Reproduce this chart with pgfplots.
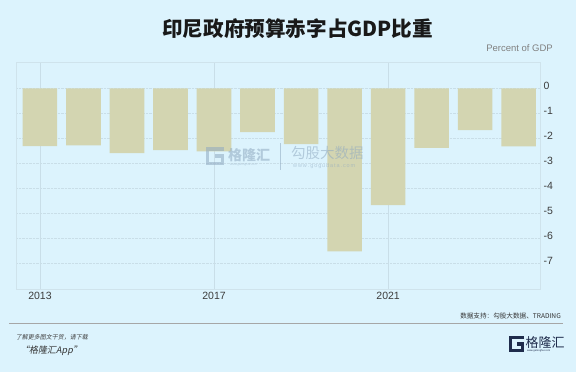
\documentclass[border=0pt]{standalone}
\usepackage{pgfplots}
\pgfplotsset{compat=1.18}
\usepackage{fontspec}
\setmainfont{Liberation Sans}
\newfontfamily\cjk{Noto Sans CJK SC}
\newfontfamily\cjkit[FakeSlant=0.2]{Noto Sans CJK SC}
\definecolor{bgcol}{HTML}{DCF3FD}
\definecolor{barcol}{HTML}{D3D5B1}
\definecolor{gridcol}{HTML}{C9DEE8}
\definecolor{framecol}{HTML}{CFE3EC}
\definecolor{tickcol}{HTML}{3C3C3C}
\definecolor{navy}{HTML}{1F2C4C}
\definecolor{wm}{HTML}{8FA9C0}
\begin{document}
\begin{tikzpicture}
\fill[bgcol] (0bp,0bp) rectangle (576bp,372bp);
\begin{axis}[
  at={(16bp,83bp)}, anchor=south west,
  scale only axis, width=524bp, height=227bp,
  xmin=2012.45, xmax=2024.49, ymin=-8.03, ymax=1.05,
  ybar, bar width=0.795,
  xtick={2013,2017,2021},
  ytick={-7,-6,-5,-4,-3,-2,-1,0},
  yticklabel pos=right,
  major tick length=0pt,
  /pgf/number format/assume math mode=true,
  /pgf/number format/1000 sep={},
  tick label style={font=\fontsize{10.5bp}{12bp}\selectfont, text=tickcol},
  yticklabel style={yshift=2bp},
  axis line style={framecol},
  xmajorgrids, ymajorgrids,
  x grid style={gridcol, line width=0.5pt},
  y grid style={gridcol, densely dotted, line width=0.5pt},
  axis background/.style={fill=bgcol},
]
\addplot[fill=barcol, draw=none] coordinates {
(2013,-2.31) (2014,-2.28) (2015,-2.59) (2016,-2.47) (2017,-2.52) (2018,-1.75)
(2019,-2.23) (2020,-6.53) (2021,-4.67) (2022,-2.38) (2023,-1.67) (2024,-2.32)};
\end{axis}
% title
\node[font=\cjk\bfseries\fontsize{20.6bp}{24bp}\selectfont, text=black!90] at (297.7bp,343.3bp) {印尼政府预算赤字占GDP比重};
\node[anchor=east, font=\fontsize{9.5bp}{11bp}\selectfont, text=black!50, inner sep=0pt] at (553bp,324.3bp) {Percent of GDP};
% watermark
\begin{scope}[opacity=0.55]
\draw[wm, line width=3.2bp] (224bp,223bp) -- (207.6bp,223bp) -- (207.6bp,208.6bp) -- (222.4bp,208.6bp) -- (222.4bp,216bp) -- (215bp,216bp);
\node[anchor=west, inner sep=0pt, font=\cjk\bfseries\fontsize{14bp}{16bp}\selectfont, text=wm] at (228bp,217bp) {格隆汇};
\node[anchor=west, inner sep=0pt, font=\fontsize{3bp}{4bp}\selectfont, text=wm] at (230bp,207.5bp) {www.gelonghui.com};
\draw[wm, line width=0.6bp] (280.7bp,202bp) -- (280.7bp,229bp);
\node[anchor=west, inner sep=0pt, font=\cjk\fontsize{14.5bp}{16bp}\selectfont, text=wm] at (291bp,218.5bp) {勾股大数据};
\node[anchor=west, inner sep=0pt, font=\fontsize{5.5bp}{6bp}\selectfont, text=wm] at (293bp,206bp) {w\,w\,w\,.\,g\,o\,g\,u\,d\,a\,t\,a\,.\,c\,o\,m};
\end{scope}
% footer
\node[anchor=east, inner sep=0pt, font=\cjk\fontsize{6.6bp}{8bp}\selectfont, text=black!80] at (561bp,56bp) {数据支持：勾股大数据、TRADING};
\draw[black!35, line width=0.7bp] (9bp,48.7bp) -- (563bp,48.7bp);
\node[anchor=west, inner sep=0pt, font=\cjkit\fontsize{6bp}{7bp}\selectfont, text=black!75] at (15.7bp,34.3bp) {了解更多图文干货，请下载};
\node[anchor=west, inner sep=0pt, font=\cjkit\fontsize{9bp}{10bp}\selectfont, text=black!80] at (20bp,21bp) {“格隆汇App”};
% logo
\draw[navy, line width=3.2bp] (524bp,34.4bp) -- (510.6bp,34.4bp) -- (510.6bp,21.6bp) -- (522.4bp,21.6bp) -- (522.4bp,28bp) -- (516.5bp,28bp);
\node[anchor=west, inner sep=0pt, font=\cjk\fontsize{13bp}{14bp}\selectfont, text=navy] at (525.5bp,29bp) {格隆汇};
\node[anchor=west, inner sep=0pt, font=\fontsize{2.6bp}{3bp}\selectfont, text=navy] at (527bp,21.3bp) {www.gelonghui.com};
\end{tikzpicture}
\end{document}
